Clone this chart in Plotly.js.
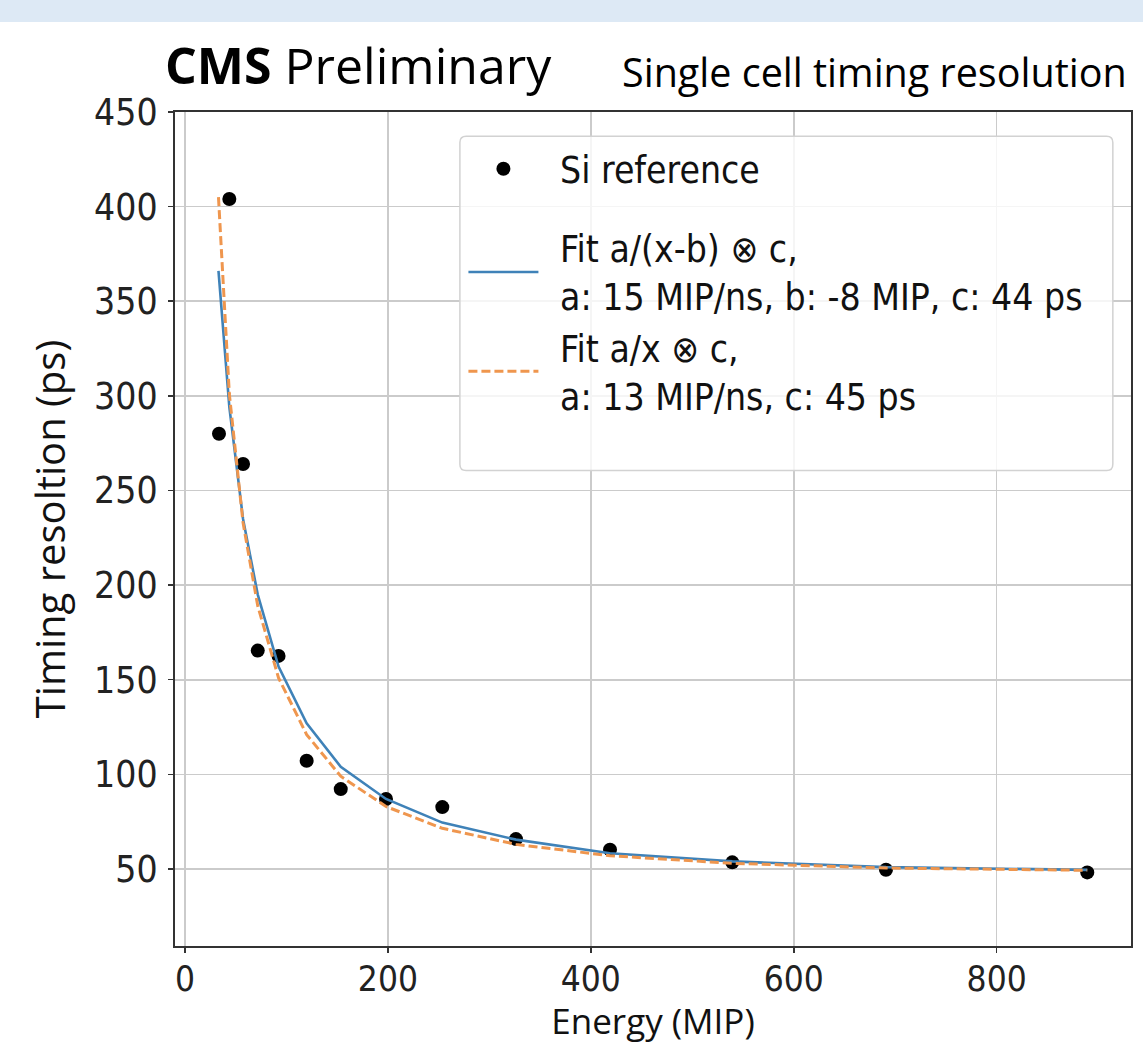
<!DOCTYPE html>
<html>
<head>
<meta charset="utf-8">
<script src="https://cdn.plot.ly/plotly-3.0.1.min.js"></script>
<style>
  html, body { margin: 0; padding: 0; background: #ffffff; }
  #band { position: absolute; left: 0; top: 0; width: 1143px; height: 22px; background: #dde9f5; z-index: 5; }
  #chart { width: 1143px; height: 1044px; }
</style>
</head>
<body>
<div id="band"></div>
<div id="chart"></div>
<script>
// Measured points (Energy in MIP, timing resolution in ps)
const energy = [33.5, 43.7, 57.2, 71.7, 92.2, 119.9, 153.5, 198.1, 253.6, 326.2, 418.9, 539.4, 690.9, 889.3];
const resolution = [280, 404, 264, 165.4, 162.6, 107.2, 92.2, 87, 82.7, 65.8, 60.2, 53.5, 49.6, 48.2];

// Fit curves as drawn (at the same energies)
const fitX = [33, 43.7, 57.2, 71.7, 92.2, 119.9, 153.5, 198.1, 253.6, 326.2, 418.9, 539.4, 690.9, 889.3];
const fitShifted = [366, 294, 235, 195, 157, 127, 104, 87, 74.5, 65.5, 58.3, 54, 51, 49.5];
const fitPlain = [405, 301, 233, 189, 151, 121, 99, 83, 71.5, 63, 57, 53, 50.5, 49.3];

const xTicks = [0, 200, 400, 600, 800];
const yTicks = [50, 100, 150, 200, 250, 300, 350, 400, 450];

const pad = '\u2002';
const names = [
  pad + 'Si reference',
  pad + 'Fit a/(x-b) \u2297 c,<br>' + pad + 'a: 15 MIP/ns, b: -8 MIP, c: 44 ps',
  pad + 'Fit a/x \u2297 c,<br>' + pad + 'a: 13 MIP/ns, c: 45 ps'
];

const condensed = 'DejaVu Sans Condensed, Liberation Sans Narrow, DejaVu Sans, sans-serif';
const tickFont = { family: condensed, size: 37, color: '#222222' };
const titleFont = { family: 'Open Sans, Noto Sans, sans-serif', size: 40, color: '#111111' };

const traces = [
  {
    x: energy, y: resolution, name: names[0], type: 'scatter', mode: 'markers',
    legendgroup: 'data',
    marker: { color: '#000000', size: 14 }
  },
  {
    x: fitX, y: fitShifted, name: names[1], type: 'scatter', mode: 'lines',
    legendgroup: 'fits',
    line: { color: '#3f82b8', width: 2.6 }
  },
  {
    x: fitX, y: fitPlain, name: names[2], type: 'scatter', mode: 'lines',
    legendgroup: 'fits',
    line: { color: '#ef964e', width: 3, dash: '9px,4px' }
  }
];

const axisCommon = {
  showgrid: true, gridcolor: '#cbcbcb', gridwidth: 1.6,
  showline: true, linecolor: '#333333', linewidth: 2, mirror: true,
  ticks: 'outside', ticklen: 5, tickcolor: '#333333', tickwidth: 1.5,
  zeroline: false, tickfont: tickFont
};

// legend frame (paper coordinates)
const lx0 = 0.298, lx1 = 0.981, ly0 = 0.570, ly1 = 0.971, rx = 0.0065, ry = 0.0075;
const framePath = 'M' + (lx0 + rx) + ',' + ly1 +
  ' L' + (lx1 - rx) + ',' + ly1 + ' Q' + lx1 + ',' + ly1 + ' ' + lx1 + ',' + (ly1 - ry) +
  ' L' + lx1 + ',' + (ly0 + ry) + ' Q' + lx1 + ',' + ly0 + ' ' + (lx1 - rx) + ',' + ly0 +
  ' L' + (lx0 + rx) + ',' + ly0 + ' Q' + lx0 + ',' + ly0 + ' ' + lx0 + ',' + (ly0 + ry) +
  ' L' + lx0 + ',' + (ly1 - ry) + ' Q' + lx0 + ',' + ly1 + ' ' + (lx0 + rx) + ',' + ly1 + ' Z';

const layout = {
  width: 1143, height: 1044,
  margin: { l: 175, r: 12, t: 112, b: 98 },
  paper_bgcolor: '#ffffff', plot_bgcolor: '#ffffff',
  showlegend: true,
  xaxis: Object.assign({}, axisCommon, {
    range: [-9.86, 932.4], tickvals: xTicks, ticktext: xTicks.map(String),
    tickfont: { family: condensed, size: 35, color: '#222222' },
    ticklabelstandoff: -4,
    title: { text: 'Energy (MIP)', font: { family: 'Open Sans, Noto Sans, sans-serif', size: 35, color: '#111111' }, standoff: 11 }
  }),
  yaxis: Object.assign({}, axisCommon, {
    range: [9.3, 450], tickvals: yTicks, ticktext: yTicks.map(String),
    ticklabelstandoff: 3,
    title: { text: 'Timing resoltion (ps)', font: titleFont, standoff: 16 }
  }),
  legend: {
    x: 0.3017, y: 0.9685, xanchor: 'left', yanchor: 'top',
    bgcolor: 'rgba(0,0,0,0)', borderwidth: 0,
    font: { family: condensed, size: 37, color: '#111111' },
    itemwidth: 70, tracegroupgap: 28
  },
  shapes: [
    {
      type: 'path', xref: 'paper', yref: 'paper', path: framePath, layer: 'above',
      fillcolor: 'rgba(255,255,255,0.8)', line: { color: '#d2d2d2', width: 1.5 }
    }
  ],
  annotations: [
    {
      xref: 'paper', yref: 'paper', x: -0.013, y: 1.0136, xanchor: 'left', yanchor: 'bottom',
      text: '<b>CMS</b> Preliminary', showarrow: false,
      font: { family: 'Open Sans, Noto Sans, sans-serif', size: 50, color: '#000000' }
    },
    {
      xref: 'paper', yref: 'paper', x: 0.466, y: 1.0136, xanchor: 'left', yanchor: 'bottom',
      text: 'Single cell timing resolution', showarrow: false,
      font: { family: 'Open Sans, Noto Sans, sans-serif', size: 39.5, color: '#000000' }
    }
  ]
};

Plotly.newPlot('chart', traces, layout, { displayModeBar: false, staticPlot: true });
</script>
</body>
</html>
